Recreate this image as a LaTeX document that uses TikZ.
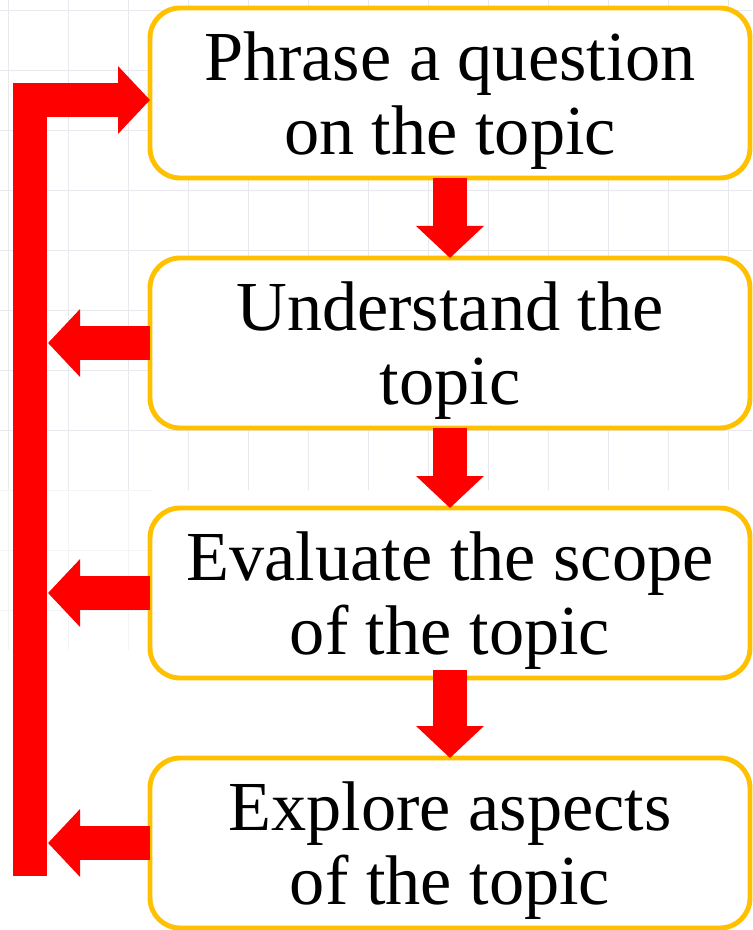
\documentclass[tikz,border=0pt]{standalone}
\usepackage{fontspec}
\setmainfont{Liberation Serif}
\usepackage{tikz}
\usetikzlibrary{arrows.meta,positioning,calc}
\usepackage{xcolor}
\definecolor{boxgold}{HTML}{FFC000}
\definecolor{flowred}{HTML}{FF0000}
\definecolor{gridgray}{HTML}{E8E8EE}

\tikzset{
    stagebox/.style={draw=boxgold, line width=3.5pt, fill=white, rounded corners=0.75cm,
        minimum width=15cm, minimum height=4.25cm, outer sep=0pt, align=center,
        text depth=0pt, font=\fontsize{50}{52.5}\selectfont},
    flowarrow/.style={draw=flowred, line width=0.85cm,
        -{Triangle[length=0.8cm, width=1.65cm]}},
}

\begin{document}
\begin{tikzpicture}[node distance=2cm]
        % Quadro de fundo
        \useasboundingbox (0,0) rectangle (18.8,-23.25);
        \draw[gridgray, line width=0.6pt, shift={(0.2,-0.25)}, step=1.5cm] (-0.2,0.25) grid (18.6,-12);
        \draw[gridgray!50, line width=0.6pt, shift={(0.2,-0.25)}, step=1.5cm] (-0.2,-12) grid (3.6,-16);
        % Etapas
        \node[stagebox] (b1) at (11.25,-2.325) {Phrase a question\\on the topic};
        \node[stagebox, below=of b1] (b2) {Understand the\\topic};
        \node[stagebox, below=of b2] (b3) {Evaluate the scope\\of the topic};
        \node[stagebox, below=of b3] (b4) {Explore aspects\\of the topic};
        % Barra de retorno
        \coordinate (barbot) at (0.75,-21.9);
        \coordinate (bartop) at (0.75,-2.5);
        \coordinate (barright) at (1.2,0);
        \draw[flowarrow, line join=miter] (barbot) -- (bartop) -- (b1.west |- bartop);
        % Setas para baixo
        \draw[flowarrow] (b1.south) -- (b2.north);
        \draw[flowarrow] (b2.south) -- (b3.north);
        \draw[flowarrow] ($(b3.south)+(0,0.2)$) -- (b4.north);
        % Setas para a barra
        \draw[flowarrow] (b2.west) -- (b2.west -| barright);
        \draw[flowarrow] (b3.west) -- (b3.west -| barright);
        \draw[flowarrow] (b4.west) -- (b4.west -| barright);
    \end{tikzpicture}
\end{document}
